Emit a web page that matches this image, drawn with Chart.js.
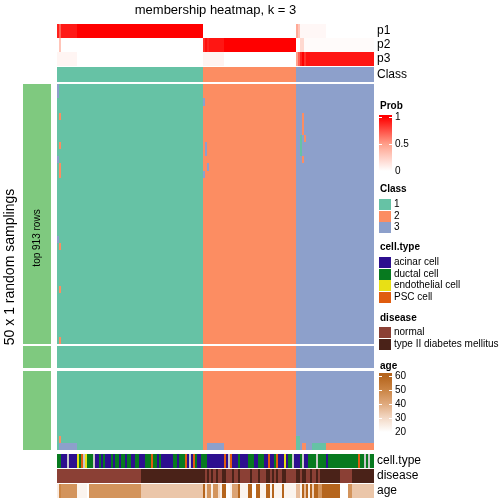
<!DOCTYPE html>
<html>
<head>
<meta charset="utf-8">
<script src="https://cdn.jsdelivr.net/npm/chart.js@4.4.0/dist/chart.umd.min.js"></script>
<style>
  html, body { margin: 0; padding: 0; background: #fff; }
</style>
</head>
<body>
<canvas id="membershipChart" width="504" height="504"></canvas>
<script>
    // Samples (columns) ordered by consensus class
    var nCol = 159;
    var nRow = 50;
    var rowsPerSlice = [36, 3, 11];
    var classes = [1, 2, 3];

    // Runs are [firstColumn, value]; each run lasts until the next one starts
    var classRuns = [[0, 1], [73, 2], [120, 3]];
    var p1Runs = [[0, 0.9], [1, 0.7], [2, 0.92], [10, 1], [73, 0], [120, 0.45], [121, 0.3], [122, 0.04], [135, 0]];
    var p2Runs = [[0, 0], [1, 0.3], [2, 0], [73, 0.85], [74, 0.95], [75, 0.88], [76, 0.93], [84, 1], [120, 0], [122, 0.2], [124, 0.02]];
    var p3Runs = [[0, 0.05], [10, 0], [73, 0.06], [84, 0], [120, 0.5], [121, 0.7], [122, 0.9], [123, 1], [124, 0.85], [125, 0.95], [127, 0.93]];

    // cell.type codes: a acinar, d ductal, e endothelial, p PSC, n missing
    var cellTypeRuns = [[0, 'd'], [2, 'a'], [5, 'n'], [6, 'a'], [10, 'e'], [11, 'd'], [12, 'p'], [13, 'n'], [14, 'e'], [15, 'd'],
        [18, 'n'], [19, 'a'], [21, 'd'], [22, 'a'], [23, 'd'], [24, 'a'], [27, 'd'], [28, 'a'], [29, 'd'], [31, 'a'], [32, 'd'],
        [34, 'a'], [35, 'd'], [37, 'a'], [39, 'd'], [41, 'a'], [44, 'd'], [47, 'p'], [48, 'd'], [50, 'a'], [51, 'd'], [52, 'a'],
        [58, 'd'], [60, 'a'], [61, 'd'], [64, 'p'], [65, 'a'], [66, 'n'], [67, 'a'], [68, 'p'], [69, 'd'], [70, 'a'], [72, 'd'],
        [75, 'a'], [84, 'p'], [85, 'a'], [86, 'n'], [87, 'p'], [88, 'a'], [91, 'd'], [92, 'a'], [96, 'd'], [99, 'a'], [101, 'd'],
        [104, 'a'], [106, 'p'], [107, 'a'], [109, 'd'], [110, 'p'], [111, 'a'], [114, 'e'], [115, 'a'], [116, 'd'], [118, 'n'],
        [119, 'a'], [122, 'd'], [123, 'n'], [124, 'a'], [126, 'd'], [130, 'n'], [131, 'd'], [135, 'a'], [136, 'd'], [151, 'p'],
        [152, 'd'], [154, 'n'], [155, 'd'], [156, 'n'], [157, 'd']];

    // disease: n normal, t type II diabetes mellitus
    var diseaseRuns = [[0, 'n'], [42, 't'], [74, 'n'], [75, 't'], [76, 'n'], [77, 't'], [78, 'n'], [80, 't'], [81, 'n'],
        [83, 't'], [85, 'n'], [88, 't'], [89, 'n'], [91, 't'], [92, 'n'], [97, 't'], [98, 'n'], [101, 't'], [102, 'n'],
        [105, 't'], [107, 'n'], [108, 't'], [109, 'n'], [110, 't'], [111, 'n'], [113, 't'], [115, 'n'], [120, 't'],
        [122, 'n'], [123, 't'], [125, 'n'], [127, 't'], [128, 'n'], [130, 't'], [131, 'n'], [132, 't'], [142, 'n'], [148, 't']];

    // age in years (20 = lightest)
    var ageRuns = [[0, 25], [1, 50], [2, 46], [10, 23], [15, 20], [16, 46], [42, 34], [73, 60], [74, 28], [75, 46], [77, 24],
        [78, 46], [81, 30], [82, 24], [83, 60], [85, 20], [87, 24], [88, 42], [91, 60], [92, 23], [96, 60], [98, 20], [100, 60],
        [102, 23], [105, 60], [107, 23], [108, 60], [109, 23], [113, 60], [114, 23], [120, 36], [122, 23], [123, 60], [124, 36],
        [125, 60], [126, 23], [127, 60], [128, 32], [129, 60], [131, 46], [133, 60], [142, 20], [146, 46], [148, 34]];

    // samplings whose class differs from the consensus: [row, firstCol, lastCol, class]
    var flips = [
        [0, 0, 0, 3], [1, 0, 0, 3], [2, 73, 73, 3], [4, 1, 1, 2], [4, 123, 123, 2], [5, 123, 123, 2], [6, 123, 123, 2],
        [7, 122, 122, 1], [7, 124, 124, 2], [8, 1, 1, 2], [8, 74, 74, 3], [8, 122, 122, 1], [9, 74, 74, 3], [9, 122, 122, 1],
        [10, 0, 0, 3], [10, 123, 123, 2], [11, 1, 1, 2], [11, 75, 75, 3], [12, 1, 1, 2], [12, 73, 73, 3],
        [21, 0, 0, 3], [22, 1, 1, 2], [28, 1, 1, 2], [35, 1, 1, 2],
        [48, 1, 1, 2], [48, 120, 121, 1],
        [49, 1, 9, 3], [49, 75, 83, 3], [49, 120, 121, 1], [49, 123, 124, 2], [49, 125, 127, 3], [49, 128, 134, 1], [49, 135, 158, 2]
    ];

    var classColors = { 1: '#66C2A5', 2: '#FC8D62', 3: '#8DA0CB' };
    var cellTypeColors = { a: '#2D0F8F', d: '#077A1F', e: '#E8E015', p: '#E05C0F', n: '#C8C8C8' };
    var cellTypeNames = { a: 'acinar cell', d: 'ductal cell', e: 'endothelial cell', p: 'PSC cell' };
    var diseaseColors = { n: '#8B4035', t: '#4A2218' };
    var diseaseNames = { n: 'normal', t: 'type II diabetes mellitus' };
    var probStops = [[0, '#FFFFFF'], [0.5, '#FF9F8A'], [1, '#FF0000']];
    var ageStops = [[20, '#FFFFFF'], [30, '#F3D9C6'], [40, '#E0AA7E'], [50, '#CB8545'], [60, '#B5651D']];

    function expandRuns(runs) {
        var out = [];
        for (var k = 0; k < runs.length; k++) {
            var end = k + 1 < runs.length ? runs[k + 1][0] : nCol;
            for (var i = runs[k][0]; i < end; i++) out[i] = runs[k][1];
        }
        return out;
    }

    function hex(c) {
        return [parseInt(c.substr(1, 2), 16), parseInt(c.substr(3, 2), 16), parseInt(c.substr(5, 2), 16)];
    }

    function ramp(stops, v) {
        if (v <= stops[0][0]) return stops[0][1];
        for (var k = 1; k < stops.length; k++) {
            if (v <= stops[k][0]) {
                var t = (v - stops[k - 1][0]) / (stops[k][0] - stops[k - 1][0]);
                var a = hex(stops[k - 1][1]), b = hex(stops[k][1]);
                return 'rgb(' + [0, 1, 2].map(function (j) { return Math.round(a[j] + (b[j] - a[j]) * t); }).join(',') + ')';
            }
        }
        return stops[stops.length - 1][1];
    }

    var classByCol = expandRuns(classRuns);
    var probs = [expandRuns(p1Runs), expandRuns(p2Runs), expandRuns(p3Runs)];
    var cellType = expandRuns(cellTypeRuns);
    var disease = expandRuns(diseaseRuns);
    var age = expandRuns(ageRuns);

    var membership = [];
    for (var r = 0; r < nRow; r++) membership.push(classByCol.slice());
    flips.forEach(function (f) {
        for (var i = f[1]; i <= f[2]; i++) membership[f[0]][i] = f[3];
    });

    // vertical layout of the tracks, in y-axis units
    var heatTop = 60, heatHeight = 366, sliceGap = 2.6;
    var rowH = (heatHeight - sliceGap * (rowsPerSlice.length - 1)) / nRow;

    var font = 'Liberation Sans, Arial, sans-serif';

    var heatmapPlugin = {
        id: 'membershipHeatmap',
        afterDraw: function (chart) {
            var ctx = chart.ctx, xs = chart.scales.x, ys = chart.scales.y, area = chart.chartArea;

            function cell(col, v0, v1, color) {
                var x0 = Math.round(xs.getPixelForValue(col)), x1 = Math.round(xs.getPixelForValue(col + 1));
                var y0 = Math.round(ys.getPixelForValue(v0)), y1 = Math.round(ys.getPixelForValue(v1));
                ctx.fillStyle = color;
                ctx.fillRect(x0, y0, x1 - x0, y1 - y0);
            }

            ctx.save();
            // top annotation
            for (var i = 0; i < nCol; i++) {
                for (var k = 0; k < 3; k++) cell(i, k * 14, k * 14 + 14, ramp(probStops, probs[k][i]));
                cell(i, 43, 58, classColors[classByCol[i]]);
            }
            // membership rows
            var row = 0;
            rowsPerSlice.forEach(function (n, s) {
                var top = heatTop + s * sliceGap + row * rowH;
                var py0 = Math.round(ys.getPixelForValue(top)), py1 = Math.round(ys.getPixelForValue(top + n * rowH));
                ctx.fillStyle = '#7FC97F';
                ctx.fillRect(area.left - 34, py0, 28, py1 - py0);
                for (var j = 0; j < n; j++) {
                    var y0 = top + j * rowH;
                    for (var c = 0; c < nCol; c++) cell(c, y0, y0 + rowH, classColors[membership[row + j][c]]);
                }
                row += n;
            });
            // bottom annotation
            for (var c = 0; c < nCol; c++) {
                cell(c, 430, 444, cellTypeColors[cellType[c]]);
                cell(c, 445, 459, diseaseColors[disease[c]]);
                cell(c, 460, 474, ramp(ageStops, age[c]));
            }

            // text
            ctx.fillStyle = '#000';
            ctx.textBaseline = 'middle';
            ctx.textAlign = 'center';
            ctx.font = '13px ' + font;
            ctx.fillText('membership heatmap, k = 3', (area.left + area.right) / 2, 10);

            ctx.save();
            ctx.translate(10, ys.getPixelForValue(heatTop + heatHeight / 2));
            ctx.rotate(-Math.PI / 2);
            ctx.font = '14px ' + font;
            ctx.fillText('50 x 1 random samplings', 0, 0);
            ctx.restore();

            ctx.save();
            ctx.translate(area.left - 20, 238);
            ctx.rotate(-Math.PI / 2);
            ctx.font = '10px ' + font;
            ctx.fillText('top 913 rows', 0, 0);
            ctx.restore();

            ctx.textAlign = 'left';
            ctx.font = '12px ' + font;
            var lx = area.right + 3;
            [['p1', 7], ['p2', 21], ['p3', 35], ['Class', 50.5], ['cell.type', 437], ['disease', 452], ['age', 467]].forEach(function (t) {
                ctx.fillText(t[0], lx, ys.getPixelForValue(t[1]));
            });

            // legends
            var gx = area.right + 5;
            ctx.font = 'bold 10px ' + font;
            ctx.fillText('Prob', gx + 1, 106);
            ctx.fillText('Class', gx + 1, 189);
            ctx.fillText('cell.type', gx + 1, 247);
            ctx.fillText('disease', gx + 1, 318);
            ctx.fillText('age', gx + 1, 366);

            var g = ctx.createLinearGradient(0, 117, 0, 171);
            g.addColorStop(0, ramp(probStops, 1));
            g.addColorStop(0.5, ramp(probStops, 0.5));
            g.addColorStop(1, ramp(probStops, 0));
            ctx.fillStyle = g;
            ctx.fillRect(gx, 115, 13, 57);
            var ga = ctx.createLinearGradient(0, 376, 0, 432);
            ageStops.slice().reverse().forEach(function (st, k) { ga.addColorStop(k / (ageStops.length - 1), st[1]); });
            ctx.fillStyle = ga;
            ctx.fillRect(gx, 373, 13, 60);
            ctx.strokeStyle = '#fff';
            ctx.lineWidth = 1;
            [117, 144, 376, 390, 404, 418].forEach(function (y) {
                ctx.beginPath(); ctx.moveTo(gx, y + 0.5); ctx.lineTo(gx + 3, y + 0.5);
                ctx.moveTo(gx + 10, y + 0.5); ctx.lineTo(gx + 13, y + 0.5); ctx.stroke();
            });

            ctx.font = '10px ' + font;
            ctx.fillStyle = '#000';
            [['1', 117], ['0.5', 144], ['0', 171]].forEach(function (t) { ctx.fillText(t[0], gx + 16, t[1]); });
            [['60', 376], ['50', 390], ['40', 404], ['30', 418], ['20', 432]].forEach(function (t) { ctx.fillText(t[0], gx + 16, t[1]); });

            function swatches(keys, colors, names, top) {
                keys.forEach(function (key, k) {
                    var y = top + k * 11.5;
                    ctx.fillStyle = colors[key];
                    ctx.fillRect(gx, Math.round(y), 12, 11);
                    ctx.fillStyle = '#000';
                    ctx.fillText(names ? names[key] : String(key), gx + 15, y + 5.5);
                });
            }
            swatches(classes, classColors, null, 199);
            swatches(['a', 'd', 'e', 'p'], cellTypeColors, cellTypeNames, 257);
            swatches(['n', 't'], diseaseColors, diseaseNames, 327);
            ctx.restore();
        }
    };

    var ctx = document.getElementById('membershipChart').getContext('2d');
    var membershipChart = new Chart(ctx, {
        type: 'scatter',
        data: { datasets: [] },
        options: {
            responsive: false,
            animation: false,
            devicePixelRatio: 1,
            layout: { padding: { left: 57, right: 130, top: 24, bottom: 6 } },
            scales: {
                x: { type: 'linear', min: 0, max: nCol, display: false },
                y: { type: 'linear', min: 0, max: 474, reverse: true, display: false }
            },
            plugins: { legend: { display: false }, tooltip: { enabled: false } }
        },
        plugins: [heatmapPlugin]
    });
</script>
</body>
</html>
